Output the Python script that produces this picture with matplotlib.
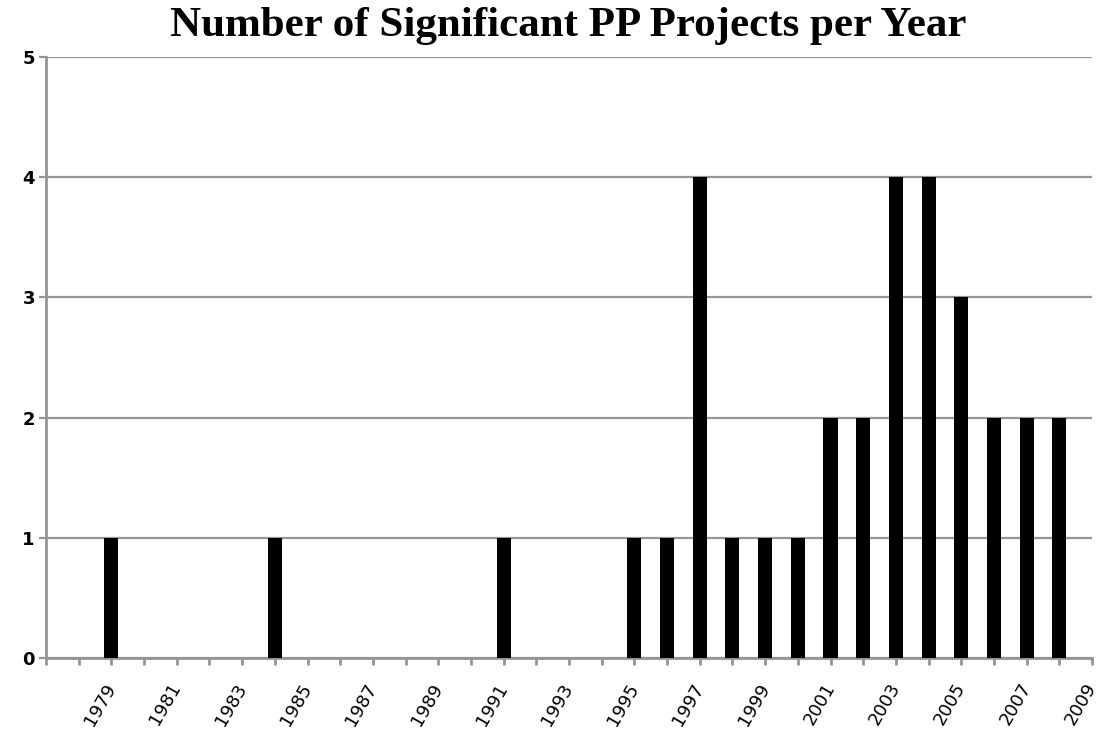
import matplotlib
matplotlib.use("Agg")
import matplotlib.pyplot as plt

years = [1979, 1984, 1991, 1995, 1996, 1997, 1998, 1999, 2000, 2001, 2002, 2003, 2004, 2005, 2006, 2007, 2008]
counts = [1, 1, 1, 1, 1, 4, 1, 1, 1, 2, 2, 4, 4, 3, 2, 2, 2]
tick_years = list(range(1977, 2010))
label_years = list(range(1979, 2010, 2))
title = "Number of Significant PP Projects per Year"

fig = plt.figure(figsize=(11.02, 7.31), dpi=100)
ax = fig.add_axes([46/1102, 1 - 658/731, (1092-46)/1102, (658-57)/731])

ax.bar(years, counts, width=0.43, color="black", zorder=3)

ax.set_xlim(1977, 2009)
ax.set_ylim(0, 5)
ax.set_xticks(tick_years)
ax.set_xticklabels([str(y) if y in label_years else "" for y in tick_years],
                   rotation=60, ha="right", va="center", rotation_mode="anchor",
                   fontsize=13, family="DejaVu Sans")
ax.set_yticks([0, 1, 2, 3, 4, 5])
ax.set_yticklabels(["0", "1", "2", "3", "4", "5"], fontsize=13, fontweight="bold",
                   family="DejaVu Sans")

gray = "#959595"
ax.yaxis.grid(True, color=gray, linewidth=1.6, zorder=0)
ax.set_axisbelow(True)
for s in ["top", "right"]:
    ax.spines[s].set_visible(False)
for s in ["left", "bottom"]:
    ax.spines[s].set_color(gray)
    ax.spines[s].set_linewidth(2)
ax.tick_params(axis="x", direction="out", length=5, width=2, color=gray, pad=14)
ax.tick_params(axis="y", direction="out", length=5, width=1.6, color=gray, pad=3)

fig.suptitle(title, x=568/1102, y=1 - 26/731, va="center",
             fontsize=31, fontweight="bold", family="Liberation Serif")

fig.savefig("out.png", dpi=100, facecolor="white")
